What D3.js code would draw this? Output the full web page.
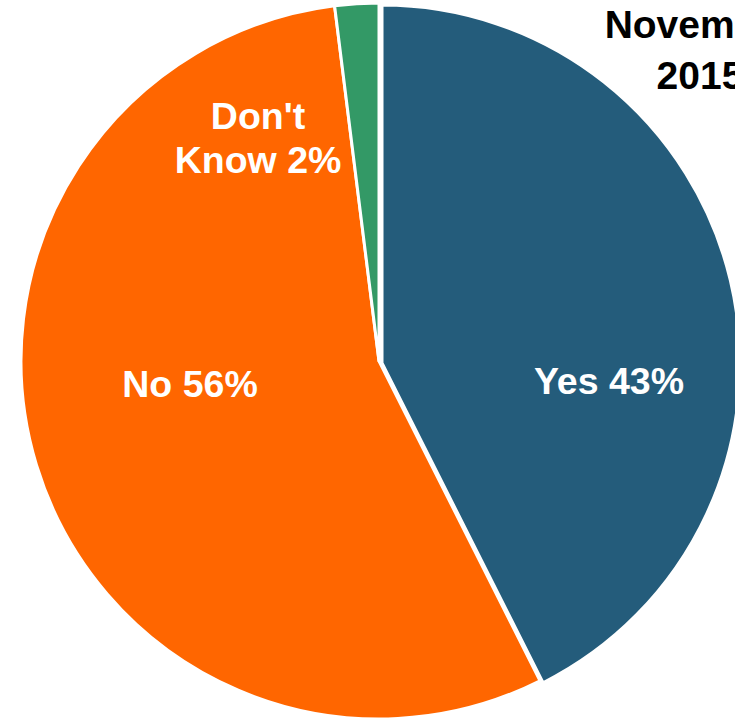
<!DOCTYPE html>
<html>
<head>
<meta charset="utf-8">
<script src="https://cdn.jsdelivr.net/npm/d3@7"></script>
<style>
  body { margin: 0; background: #fff; }
  svg { display: block; font-family: "Liberation Sans", Arial, sans-serif; font-weight: bold; }
</style>
</head>
<body>
<div id="chart"></div>
<script>
// data
var categories = ["Yes", "No", "Don't Know"];
var values = [43, 56, 2];
var colors = ["#245C7B", "#FF6600", "#339966"];
var labelLines = [["Yes 43%"], ["No 56%"], ["Don't", "Know 2%"]];
var titleLines = ["November", "2015"];

var width = 735, height = 718;
var cx = 379, cy = 361, radius = 358;

var svg = d3.select("#chart").append("svg")
  .attr("width", width)
  .attr("height", height);

var g = svg.append("g")
  .attr("transform", "translate(" + cx + "," + cy + ")");

var pie = d3.pie().sort(null).value(function(d) { return d; });
var arc = d3.arc().innerRadius(0).outerRadius(radius);
var arcs = pie(values);

//slight explode on the "Yes" slice
var explode = [[3, 2], [0, 0], [0, 0]];

g.selectAll(".slice")
  .data(arcs)
  .enter().append("path")
  .attr("class", "slice")
  .attr("d", arc)
  .attr("transform", function(d, i) { return "translate(" + explode[i][0] + "," + explode[i][1] + ")"; })
  .style("fill", function(d, i) { return colors[i]; })
  .style("stroke", "#fff")
  .style("stroke-width", 3)
  .style("stroke-linejoin", "round");

//label placement (relative to pie centre)
var labelPos = [[230, 33], [-189, 36], [-121, -188]];
var lineHeight = 44;

var labels = g.selectAll(".label")
  .data(arcs)
  .enter().append("text")
  .attr("class", "label")
  .attr("text-anchor", "middle")
  .style("fill", "#fff")
  .style("font-size", "37.5px");

labels.each(function(d, i) {
  var t = d3.select(this);
  var lines = labelLines[i];
  lines.forEach(function(l, j) {
    t.append("tspan")
      .attr("x", labelPos[i][0])
      .attr("y", labelPos[i][1] + (j - (lines.length - 1)) * lineHeight)
      .text(l);
  });
});

//title (runs off the right edge, as in the original)
var title = svg.append("text")
  .attr("text-anchor", "middle")
  .style("font-size", "39px")
  .style("fill", "#000");

titleLines.forEach(function(l, j) {
  title.append("tspan")
    .attr("x", 700)
    .attr("y", 38 + j * 51)
    .text(l);
});
</script>
</body>
</html>
